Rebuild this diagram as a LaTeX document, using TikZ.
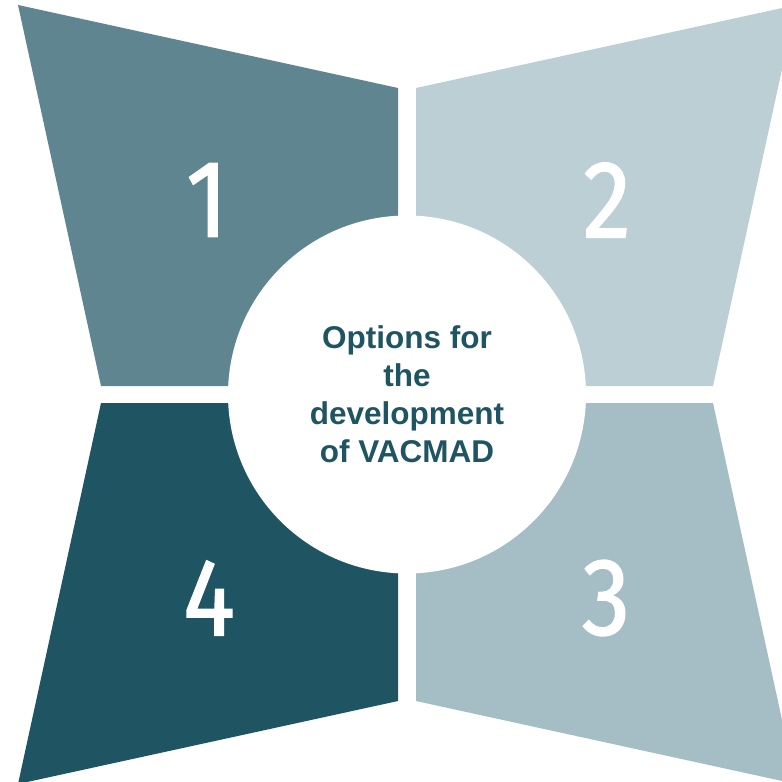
\documentclass[tikz,border=0pt]{standalone}
\usepackage{fontspec}
\setmainfont{Liberation Sans}
\newfontfamily\digitfont[FakeStretch=0.88,FakeBold=1.2]{Fira Sans}
\definecolor{tealA}{HTML}{5F8590}
\definecolor{tealB}{HTML}{BCCFD4}
\definecolor{tealC}{HTML}{A5BDC5}
\definecolor{tealD}{HTML}{1F5562}

\begin{document}
\begin{tikzpicture}[x=1pt,y=-1pt,num/.style={text=white,inner sep=0pt,font=\digitfont\fontsize{110}{110}\selectfont},hub/.style={circle,fill=white,minimum size=358pt,inner sep=0pt,align=center,text=tealD,font=\bfseries\fontsize{31.5}{38}\selectfont}]
\clip (0,0) rectangle (782,782);
\fill[white] (0,0) rectangle (782,782);
% the four pieces round the hub
\fill[tealA] (18,5) -- (398,88) -- (398,386) -- (101,386) -- cycle;
\fill[tealB] (416,88) -- (796,5) -- (713,386) -- (416,386) -- cycle;
\fill[tealC] (416,403) -- (713,403) -- (796,784) -- (416,701) -- cycle;
\fill[tealD] (101,403) -- (398,403) -- (398,701) -- (18,784) -- cycle;
\node[hub] (hub) at (407,394.5) {Options for\\the\\development\\of VACMAD};
\node[num] (n1) at (207,200) {1};
\node[num] (n2) at (607,200) {2};
\node[num] (n3) at (606,598) {3};
\node[num] (n4) at (209,598) {4};
\end{tikzpicture}
\end{document}
